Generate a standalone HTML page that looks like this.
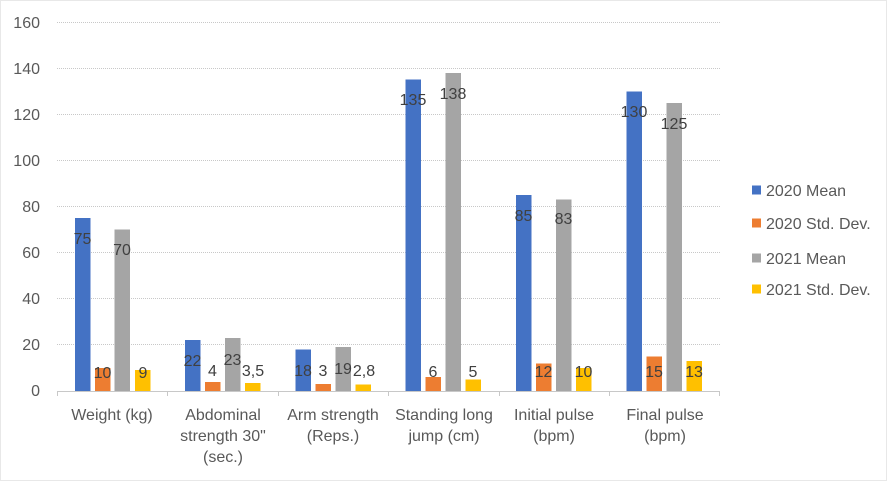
<!DOCTYPE html>
<html><head><meta charset="utf-8"><style>
html,body{margin:0;padding:0;background:#fff;}
svg{display:block;}
text{font-family:"Liberation Sans",Arial,sans-serif;}
</style></head><body>
<svg width="891" height="483" viewBox="0 0 891 483" xmlns="http://www.w3.org/2000/svg">
<rect x="0" y="0" width="891" height="483" fill="#fff"/>
<rect x="0.5" y="0.5" width="886" height="480" fill="none" stroke="#d0d0d0" stroke-width="1" stroke-dasharray="1,1"/>
<g stroke="#c8c8c8" stroke-width="1" stroke-dasharray="1,1">
<line x1="57" x2="720" y1="22.5" y2="22.5"/>
<line x1="57" x2="720" y1="68.5" y2="68.5"/>
<line x1="57" x2="720" y1="114.5" y2="114.5"/>
<line x1="57" x2="720" y1="160.5" y2="160.5"/>
<line x1="57" x2="720" y1="206.5" y2="206.5"/>
<line x1="57" x2="720" y1="252.5" y2="252.5"/>
<line x1="57" x2="720" y1="298.5" y2="298.5"/>
<line x1="57" x2="720" y1="344.5" y2="344.5"/>
</g>
<g font-size="16" fill="#595959" text-anchor="end">
<text x="40" y="28">160</text>
<text x="40" y="74">140</text>
<text x="40" y="120">120</text>
<text x="40" y="166">100</text>
<text x="40" y="212">80</text>
<text x="40" y="258">60</text>
<text x="40" y="304">40</text>
<text x="40" y="350">20</text>
<text x="40" y="396">0</text>
</g>
<g>
<rect x="75" y="218" width="15.5" height="173" fill="#4472C4"/>
<rect x="95" y="368" width="15.5" height="23" fill="#ED7D31"/>
<rect x="114.5" y="229.5" width="15.5" height="161.5" fill="#A5A5A5"/>
<rect x="135" y="370" width="15.5" height="21" fill="#FFC000"/>
<rect x="185" y="340" width="15.5" height="51" fill="#4472C4"/>
<rect x="205" y="382" width="15.5" height="9" fill="#ED7D31"/>
<rect x="225" y="338" width="15.5" height="53" fill="#A5A5A5"/>
<rect x="245" y="383" width="15.5" height="8" fill="#FFC000"/>
<rect x="295.5" y="349.5" width="15.5" height="41.5" fill="#4472C4"/>
<rect x="315.5" y="384" width="15.5" height="7" fill="#ED7D31"/>
<rect x="335.5" y="347" width="15.5" height="44" fill="#A5A5A5"/>
<rect x="355.5" y="384.5" width="15.5" height="6.5" fill="#FFC000"/>
<rect x="405.5" y="79.5" width="15.5" height="311.5" fill="#4472C4"/>
<rect x="425.5" y="377" width="15.5" height="14" fill="#ED7D31"/>
<rect x="445.5" y="73" width="15.5" height="318" fill="#A5A5A5"/>
<rect x="465.5" y="379.5" width="15.5" height="11.5" fill="#FFC000"/>
<rect x="516" y="195" width="15.5" height="196" fill="#4472C4"/>
<rect x="536" y="363.5" width="15.5" height="27.5" fill="#ED7D31"/>
<rect x="556" y="199.5" width="15.5" height="191.5" fill="#A5A5A5"/>
<rect x="576" y="368" width="15.5" height="23" fill="#FFC000"/>
<rect x="626.5" y="91.5" width="15.5" height="299.5" fill="#4472C4"/>
<rect x="646.5" y="356.5" width="15.5" height="34.5" fill="#ED7D31"/>
<rect x="666.5" y="103" width="15.5" height="288" fill="#A5A5A5"/>
<rect x="686.5" y="361" width="15.5" height="30" fill="#FFC000"/>
</g>
<g stroke="#c8c8c8" stroke-width="1">
<line x1="57" x2="720" y1="391.5" y2="391.5"/>
<line x1="57.5" x2="57.5" y1="391" y2="396"/>
<line x1="167.5" x2="167.5" y1="391" y2="396"/>
<line x1="278.5" x2="278.5" y1="391" y2="396"/>
<line x1="388.5" x2="388.5" y1="391" y2="396"/>
<line x1="499.5" x2="499.5" y1="391" y2="396"/>
<line x1="609.5" x2="609.5" y1="391" y2="396"/>
<line x1="719.5" x2="719.5" y1="391" y2="396"/>
</g>
<g font-size="16" fill="#404040" text-anchor="middle">
<text x="82.5" y="244">75</text>
<text x="102.5" y="378">10</text>
<text x="122" y="255">70</text>
<text x="143" y="378">9</text>
<text x="192.5" y="366">22</text>
<text x="212.5" y="376">4</text>
<text x="232.5" y="365">23</text>
<text x="253" y="376">3,5</text>
<text x="303" y="376">18</text>
<text x="323" y="376">3</text>
<text x="343" y="374">19</text>
<text x="364" y="376">2,8</text>
<text x="413" y="105">135</text>
<text x="433" y="377">6</text>
<text x="453" y="99">138</text>
<text x="473" y="377">5</text>
<text x="523.5" y="221">85</text>
<text x="543.5" y="377">12</text>
<text x="563.5" y="224">83</text>
<text x="583.5" y="377">10</text>
<text x="634" y="117">130</text>
<text x="654" y="377">15</text>
<text x="674" y="129">125</text>
<text x="694" y="377">13</text>
</g>
<g font-size="16" fill="#595959" text-anchor="middle">
<text x="112" y="420">Weight (kg)</text>
<text x="223" y="420">Abdominal</text>
<text x="223" y="441">strength 30"</text>
<text x="223" y="462">(sec.)</text>
<text x="333" y="420">Arm strength</text>
<text x="333" y="441">(Reps.)</text>
<text x="444" y="420">Standing long</text>
<text x="444" y="441">jump (cm)</text>
<text x="554" y="420">Initial pulse</text>
<text x="554" y="441">(bpm)</text>
<text x="665" y="420">Final pulse</text>
<text x="665" y="441">(bpm)</text>
</g>
<rect x="752" y="185.5" width="9" height="9" fill="#4472C4"/>
<rect x="752" y="218.5" width="9" height="9" fill="#ED7D31"/>
<rect x="752" y="253.5" width="9" height="9" fill="#A5A5A5"/>
<rect x="752" y="284.5" width="9" height="9" fill="#FFC000"/>
<g font-size="16" fill="#595959">
<text x="766" y="196">2020 Mean</text>
<text x="766" y="229">2020 Std. Dev.</text>
<text x="766" y="264">2021 Mean</text>
<text x="766" y="295">2021 Std. Dev.</text>
</g>
</svg>
</body></html>
